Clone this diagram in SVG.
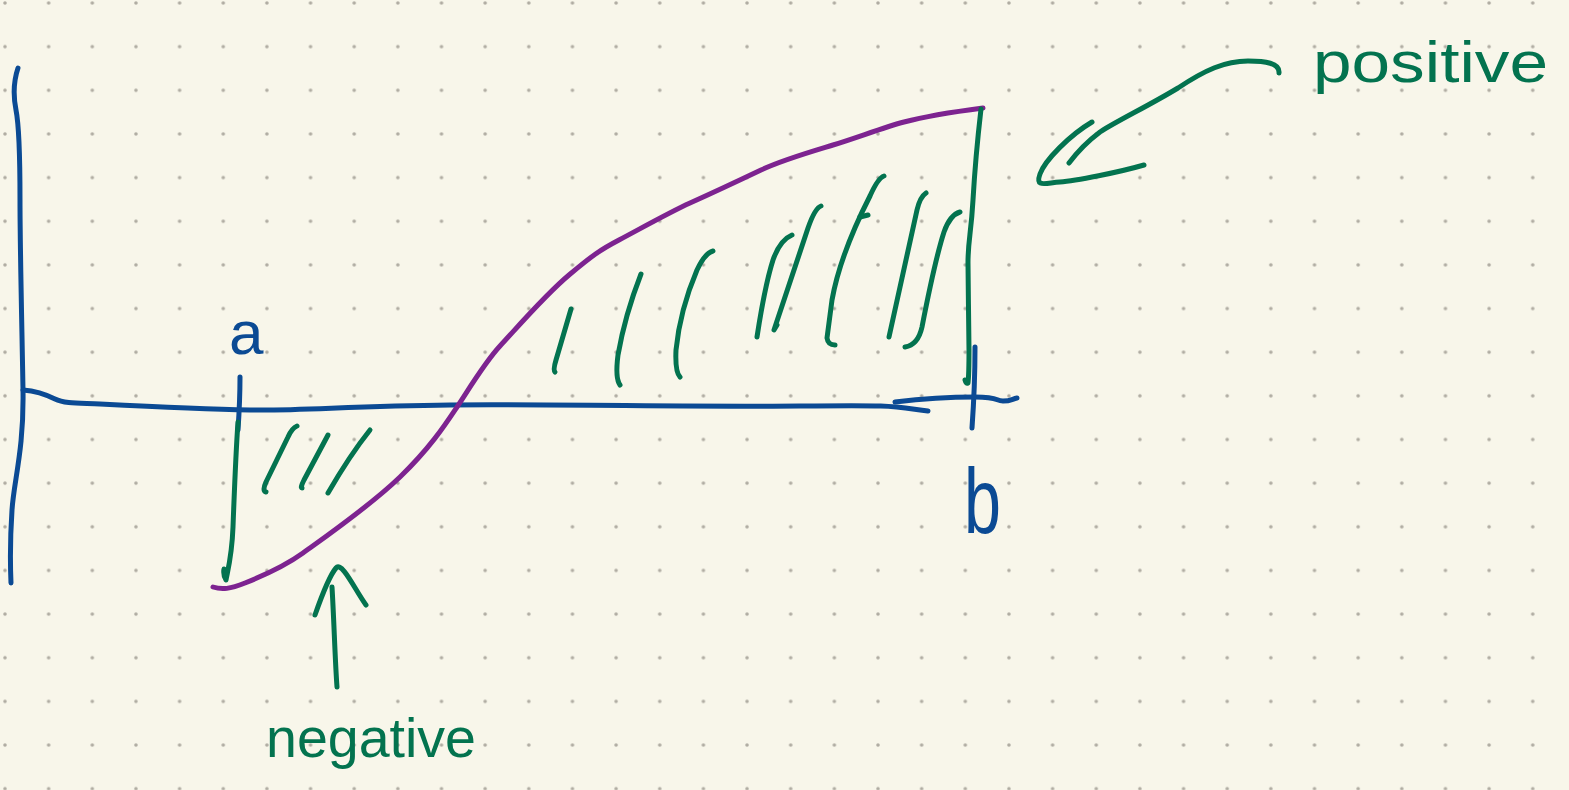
<svg xmlns="http://www.w3.org/2000/svg" width="1569" height="790" viewBox="0 0 1569 790">
<style>
.blue{fill:none;stroke:#0b4a94;stroke-width:5;stroke-linecap:round;stroke-linejoin:round}
.green{fill:none;stroke:#03734f;stroke-width:5;stroke-linecap:round;stroke-linejoin:round}
.purple{fill:none;stroke:#7d2390;stroke-width:5;stroke-linecap:round;stroke-linejoin:round}
.lbl{font-family:"Liberation Sans",Arial,sans-serif}
</style>
<defs>
<pattern id="dots" x="-16.825" y="-18.825" width="43.65" height="43.65" patternUnits="userSpaceOnUse">
<circle cx="21.825" cy="21.825" r="1.8" fill="#b0aca2"/>
</pattern>
</defs>
<rect width="1569" height="790" fill="#f8f6ea"/>
<rect width="1569" height="790" fill="url(#dots)"/>
<g id="axes">
<path class="blue" d="M18,68 C14,80 13,95 16,110 S20,150 20,200 S22,330 23,390 S14,480 12,510 S10,560 11,583"/>
<path class="blue" d="M23,390 C35,391 45,394 55,399 S80,403 100,404 S200,409 250,410 S350,406 450,405 S700,407 800,406 S890,406 928,411"/>
<path class="blue" d="M895,402 C920,399 950,397 975,397 S995,401 1003,401 S1012,399 1017,398"/>
<path class="blue" d="M240,377 C240,395 239,415 238,430"/>
<path class="blue" d="M975,347 C975,370 974,400 972,428"/>
</g>
<g id="curve">
<path class="purple" d="M213,587 C222,590 230,589 245,583 S285,566 303,553 S370,506 400,477 S445,425 457,407 S485,362 500,346 S545,295 569,275 S600,250 619,240 S670,212 690,203 S740,180 761,170 S810,152 833,145 S885,127 904,122 S960,111 983,108"/>
</g>
<g id="bounds">
<path class="green" d="M238,422 C236,450 234,500 233,527 S229,565 226,580 Q223,576 224,569"/>
<path class="green" d="M981,109 C978,135 975,165 973,200 S968,240 968,263 S969,330 969,350 S969,375 968,383 Q966,384 965,380"/>
</g>
<g id="hatch-negative">
<path class="green" d="M297,426 Q292,428 288,437 L266,482 Q262,491 266,492"/>
<path class="green" d="M328,435 L304,480 Q300,488 302,488"/>
<path class="green" d="M370,430 Q350,455 328,493"/>
</g>
<g id="hatch-positive">
<path class="green" d="M571,309 L556,360 Q553,370 555,372"/>
<path class="green" d="M641,274 Q625,315 618,355 Q615,378 620,385"/>
<path class="green" d="M713,251 Q705,253 697,270 Q680,310 676,350 Q675,372 680,377"/>
<path class="green" d="M792,235 Q780,240 773,260 Q765,285 757,337"/>
<path class="green" d="M821,206 Q815,208 808,228 L774,330 L777,325"/>
<path class="green" d="M884,176 Q878,178 870,196 Q840,255 832,300 L827,338 Q828,345 835,345"/>
<path class="green" d="M860,217 L868,215"/>
<path class="green" d="M926,193 Q920,197 917,210 L889,337"/>
<path class="green" d="M960,212 Q950,215 944,232 Q935,260 922,327 Q918,345 905,347"/>
</g>
<g id="connectors">
<path class="green" d="M1279,73 C1280,63 1265,61 1248,61 C1225,61 1205,70 1178,88 C1150,105 1115,122 1100,132 C1088,141 1078,151 1069,163"/>
<path class="green" d="M1092,122 C1070,135 1045,160 1040,174 S1045,183 1060,182 S1120,172 1144,165"/>
<path class="green" d="M332,587 C334,620 335,660 337,687"/>
<path class="green" d="M315,615 C322,595 330,575 336,568 S355,590 366,605"/>
</g>
<g id="label-a"><text class="lbl" x="229" y="354" font-size="62" fill="#0b4a94">a</text></g>
<g id="label-b"><text class="lbl" x="964" y="533" font-size="92" fill="#0b4a94" textLength="37" lengthAdjust="spacingAndGlyphs">b</text></g>
<g id="label-positive"><text class="lbl" x="1313" y="82" font-size="58" fill="#03734f" textLength="235" lengthAdjust="spacingAndGlyphs">positive</text></g>
<g id="label-negative"><text class="lbl" x="266" y="757" font-size="56" fill="#03734f" textLength="210" lengthAdjust="spacingAndGlyphs">negative</text></g>
</svg>
